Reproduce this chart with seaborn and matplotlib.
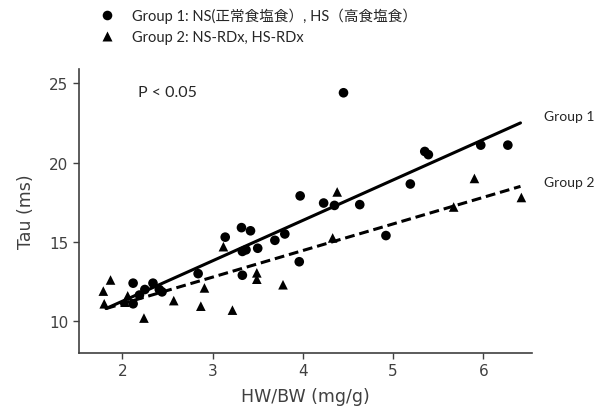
import numpy as np
import pandas as pd
import seaborn as sns
import matplotlib.pyplot as plt

# values
g1_x = [2.12, 2.12, 2.19, 2.25, 2.34, 2.41, 2.44, 2.84, 3.14, 3.32, 3.42, 3.33, 3.37, 3.50, 3.69,
        3.80, 3.33, 3.96, 3.97, 4.23, 4.35, 4.63, 4.45, 4.92, 5.19, 5.35, 5.39, 5.97, 6.27]
g1_y = [12.4, 11.1, 11.65, 12.0, 12.4, 12.0, 11.85, 13.0, 15.3, 15.9, 15.7, 14.4, 14.5, 14.6, 15.1,
        15.5, 12.9, 13.75, 17.9, 17.45, 17.3, 17.35, 24.4, 15.4, 18.65, 20.7, 20.5, 21.1, 21.1]
g2_x = [1.87, 1.79, 1.80, 2.03, 2.06, 2.24, 2.57, 2.87, 2.91, 3.12, 3.22, 3.49, 3.49, 3.78,
        4.38, 4.33, 5.90, 5.67, 6.42]
g2_y = [12.6, 11.9, 11.1, 11.2, 11.6, 10.2, 11.3, 10.95, 12.1, 14.7, 10.7, 13.05, 12.65, 12.3,
        18.15, 15.25, 19.0, 17.2, 17.8]

fit_x = [1.82, 6.41]
fit1_y = [10.8, 22.5]
fit2_y = [10.8, 18.5]

label1 = 'Group 1: NS(正常食塩食）, HS（高食塩食）'
label2 = 'Group 2: NS-RDx, HS-RDx'

df = pd.DataFrame({
    'x': g1_x + g2_x,
    'y': g1_y + g2_y,
    'group': [label1] * len(g1_x) + [label2] * len(g2_x),
})

sns.set_style('white')
fig = plt.figure(figsize=(5.98, 4.14), dpi=100)
ax = fig.add_axes([0.132, 0.145, 0.758, 0.686])

sns.lineplot(x=fit_x, y=fit1_y, color='black', lw=2.2, ax=ax)
sns.lineplot(x=fit_x, y=fit2_y, color='black', lw=2.2, ax=ax, linestyle=(0, (3.2, 1.6)))
sns.scatterplot(data=df, x='x', y='y', style='group', markers={label1: 'o', label2: '^'},
                color='black', s=48, edgecolor='none', ax=ax, zorder=3)

ax.set_xlim(1.52, 6.54)
ax.set_ylim(8.0, 25.9)
ax.set_xticks([2, 3, 4, 5, 6])
ax.set_yticks([10, 15, 20, 25])
ax.set_xlabel('HW/BW (mg/g)', fontsize=12.5, color='#404040', labelpad=6)
ax.set_ylabel('Tau (ms)', fontsize=12.5, color='#404040', labelpad=10)
ax.tick_params(axis='both', length=4, width=1, colors='#404040', labelsize=11, direction='out',
               bottom=True, left=True)
for side in ['top', 'right']:
    ax.spines[side].set_visible(False)
for side in ['left', 'bottom']:
    ax.spines[side].set_color('#404040')
    ax.spines[side].set_linewidth(1.2)

txt_font = ['Lato', 'Noto Sans CJK JP', 'DejaVu Sans']
ax.text(0.13, 0.92, 'P < 0.05', transform=ax.transAxes, fontsize=11.5, family=txt_font, va='center')
ax.text(1.025, 0.834, 'Group 1', transform=ax.transAxes, fontsize=10, family=txt_font,
        va='center', clip_on=False)
ax.text(1.025, 0.602, 'Group 2', transform=ax.transAxes, fontsize=10, family=txt_font,
        va='center', clip_on=False)

sns.move_legend(ax, 'upper left', bbox_to_anchor=(0.145, 0.993), bbox_transform=fig.transFigure,
                frameon=False, title=None, handletextpad=0.7, labelspacing=0.45,
                prop={'family': txt_font, 'size': 10.5}, borderaxespad=0)

fig.savefig('out.png', dpi=100)
